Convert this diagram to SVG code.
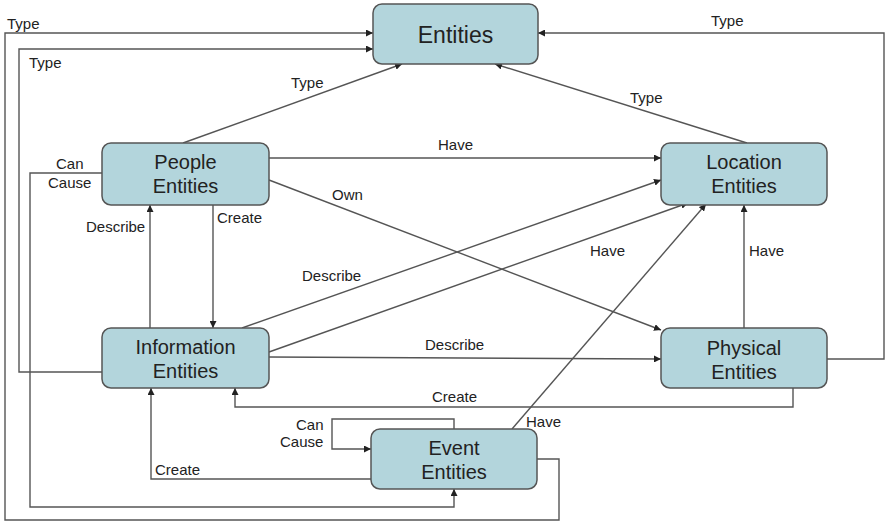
<svg xmlns="http://www.w3.org/2000/svg" width="885" height="523" viewBox="0 0 885 523">
  <style>
    .node rect { fill: #b3d5dc; stroke: #555; stroke-width: 1.5; }
    .node text { font-family: "Liberation Sans", Arial, sans-serif; font-size: 20px; fill: #222; text-anchor: middle; }
    .edge { fill: none; stroke: #555; stroke-width: 1.4; marker-end: url(#arrow); }
    .lbl { font-family: "Liberation Sans", Arial, sans-serif; font-size: 15px; fill: #222; }
  </style>
  <defs>
    <marker id="arrow" viewBox="0 0 10 10" refX="10" refY="5" markerWidth="7" markerHeight="7" orient="auto" markerUnits="userSpaceOnUse">
      <path d="M0,0 L10,5 L0,10 z" fill="#222"/>
    </marker>
  </defs>
  <rect width="885" height="523" fill="#fff"/>

  <g id="connectors">
    <!-- Type links into Entities -->
    <path class="edge" d="M183,143 L402,64"/>
    <path class="edge" d="M747,143 L495,64"/>
    <path class="edge" d="M537,459 H559 V520 H5 V33 H373"/>
    <path class="edge" d="M102,372 H19 V49 H373"/>
    <path class="edge" d="M827,359 H884 V33 H538"/>
    <!-- Have / Describe links into Location -->
    <path class="edge" d="M269,158 H661"/>
    <path class="edge" d="M242,328 L661,180"/>
    <path class="edge" d="M269,352 L688,203"/>
    <path class="edge" d="M512,429 L706,204"/>
    <path class="edge" d="M744,328 V205"/>
    <!-- People links -->
    <path class="edge" d="M269,180 L661,330"/>
    <path class="edge" d="M213,205 V328"/>
    <path class="edge" d="M150,328 V205"/>
    <path class="edge" d="M102,173 H30 V507 H454 V489"/>
    <!-- Information / Physical / Event -->
    <path class="edge" d="M269,357 L661,359"/>
    <path class="edge" d="M793,388 V407 H235 V388"/>
    <path class="edge" d="M371,479 H151 V388"/>
    <path class="edge" d="M454,429 V419 H332 V449 H371"/>
  </g>

  <g id="labels">
    <text class="lbl" x="7" y="29">Type</text>
    <text class="lbl" x="29" y="68">Type</text>
    <text class="lbl" x="291" y="88">Type</text>
    <text class="lbl" x="630" y="103">Type</text>
    <text class="lbl" x="711" y="26">Type</text>
    <text class="lbl" x="438" y="150">Have</text>
    <text class="lbl" x="332" y="200">Own</text>
    <text class="lbl" x="56" y="169">Can</text>
    <text class="lbl" x="48" y="188">Cause</text>
    <text class="lbl" x="86" y="232">Describe</text>
    <text class="lbl" x="217" y="223">Create</text>
    <text class="lbl" x="302" y="281">Describe</text>
    <text class="lbl" x="590" y="256">Have</text>
    <text class="lbl" x="749" y="256">Have</text>
    <text class="lbl" x="425" y="350">Describe</text>
    <text class="lbl" x="432" y="402">Create</text>
    <text class="lbl" x="526" y="427">Have</text>
    <text class="lbl" x="296" y="430">Can</text>
    <text class="lbl" x="280" y="447">Cause</text>
    <text class="lbl" x="155" y="475">Create</text>
  </g>

  <g id="entities" class="node">
    <rect x="373" y="4" width="165" height="60" rx="9"/>
    <text x="455.5" y="43" style="font-size:23px">Entities</text>
  </g>
  <g id="people" class="node">
    <rect x="102" y="143" width="167" height="62" rx="9"/>
    <text x="185.5" y="169">People</text>
    <text x="185.5" y="193">Entities</text>
  </g>
  <g id="location" class="node">
    <rect x="661" y="143" width="166" height="62" rx="9"/>
    <text x="744" y="169">Location</text>
    <text x="744" y="193">Entities</text>
  </g>
  <g id="information" class="node">
    <rect x="102" y="328" width="167" height="60" rx="9"/>
    <text x="185.5" y="354">Information</text>
    <text x="185.5" y="378">Entities</text>
  </g>
  <g id="physical" class="node">
    <rect x="661" y="328" width="166" height="60" rx="9"/>
    <text x="744" y="355">Physical</text>
    <text x="744" y="379">Entities</text>
  </g>
  <g id="event" class="node">
    <rect x="371" y="429" width="166" height="60" rx="9"/>
    <text x="454" y="455">Event</text>
    <text x="454" y="479">Entities</text>
  </g>
</svg>
